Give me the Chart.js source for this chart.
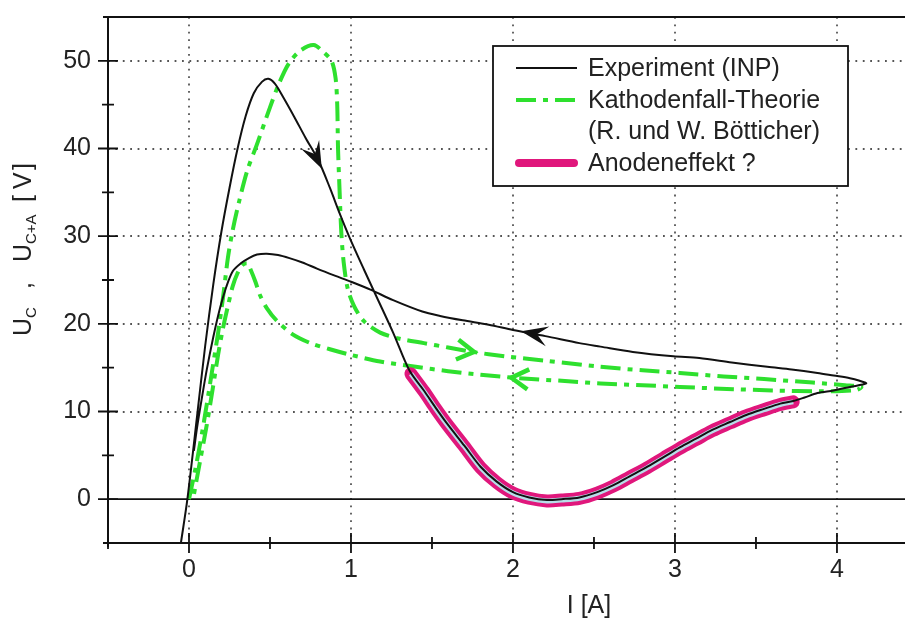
<!DOCTYPE html>
<html lang="de">
<head>
<meta charset="utf-8">
<title>Kennlinie U(I)</title>
<script src="https://cdn.jsdelivr.net/npm/chart.js@4.4.1/dist/chart.umd.min.js"></script>
<style>
  html, body { margin: 0; padding: 0; background: #fff; }
  #wrap { width: 905px; height: 621px; }
</style>
</head>
<body>
<div id="wrap"><canvas id="kennlinie" width="905" height="621"></canvas></div>
<script>
// Achsen
const xTicks = [-0.5, 0, 0.5, 1, 1.5, 2, 2.5, 3, 3.5, 4];
const xLabels = [0, 1, 2, 3, 4];
const yTicks = [-5, 0, 5, 10, 15, 20, 25, 30, 35, 40, 45, 50, 55];
const yLabels = [0, 10, 20, 30, 40, 50];

// Experiment (INP): Anstieg, Abfall, unterer Ast, oberer Ast zurueck
const expI = [-0.05, -0.01, 0.05, 0.1, 0.15, 0.2, 0.25, 0.3, 0.35, 0.4, 0.45, 0.49, 0.53, 0.58, 0.65, 0.72, 0.8, 0.87, 0.93, 0.99, 1.08, 1.16, 1.26, 1.36,
  1.45, 1.52, 1.59, 1.7, 1.8, 1.9, 2.0, 2.1, 2.21, 2.3, 2.41, 2.52, 2.62, 2.72, 2.83, 2.93, 3.03, 3.13, 3.23, 3.34, 3.44, 3.55, 3.65, 3.73, 3.8, 3.88, 3.98, 4.08, 4.18,
  4.14, 4.08, 3.98, 3.88, 3.72, 3.57, 3.35, 3.15, 2.99, 2.74, 2.54, 2.41, 2.2, 2.0, 1.85, 1.69, 1.55, 1.44, 1.26, 1.12, 1.0, 0.9, 0.79, 0.7, 0.62, 0.55, 0.48, 0.42, 0.37, 0.32, 0.27, 0.23, 0.19, 0.15, 0.11, 0.08, 0.05, 0.03];
const expU = [-5, 0, 9.5, 17.5, 24.5, 30.5, 35.5, 40, 43.7, 46.3, 47.6, 47.95, 47.4, 45.9, 43.6, 41.2, 38.6, 35.5, 32.6, 29.9, 26.2, 23, 19, 14.7,
  12.4, 10.5, 8.7, 6.1, 3.7, 2.0, 0.8, 0.2, -0.1, 0.0, 0.2, 0.8, 1.6, 2.6, 3.7, 4.8, 5.9, 6.9, 7.9, 8.8, 9.6, 10.3, 10.9, 11.2, 11.6, 12.1, 12.4, 12.8, 13.2,
  13.5, 13.8, 14.1, 14.4, 14.8, 15.1, 15.6, 16.1, 16.3, 16.8, 17.4, 17.8, 18.6, 19.3, 19.9, 20.4, 20.9, 21.4, 22.7, 23.9, 24.8, 25.5, 26.3, 27.0, 27.5, 27.85, 28, 27.9, 27.5, 26.9, 26.0, 24.2, 21.7, 18.5, 14.8, 11.6, 8.2, 5.5];

// Anodeneffekt ? (markierter Teil des unteren Astes)
const anodeI = [1.37, 1.45, 1.52, 1.59, 1.7, 1.8, 1.9, 2.0, 2.1, 2.21, 2.3, 2.41, 2.52, 2.62, 2.72, 2.83, 2.93, 3.03, 3.13, 3.23, 3.34, 3.44, 3.55, 3.65, 3.73];
const anodeU = [14.3, 12.3, 10.4, 8.6, 6.0, 3.6, 1.9, 0.7, 0.1, -0.2, -0.1, 0.1, 0.7, 1.5, 2.5, 3.6, 4.7, 5.8, 6.8, 7.8, 8.7, 9.5, 10.2, 10.8, 11.1];

// Kathodenfall-Theorie (R. und W. Boetticher)
const theoI = [0.0, 0.04, 0.08, 0.12, 0.15, 0.18, 0.21, 0.24, 0.27, 0.31, 0.36, 0.42, 0.5, 0.56, 0.62, 0.69, 0.77, 0.83, 0.88, 0.905, 0.915, 0.92, 0.93, 0.94, 0.955, 0.98, 1.02, 1.08, 1.18, 1.3, 1.45, 1.6, 1.75, 1.95, 2.2, 2.54, 2.8, 3.03, 3.3, 3.55, 3.85, 4.05, 4.15,
  4.12, 3.9, 3.6, 3.36, 3.03, 2.8, 2.54, 2.3, 2.04, 1.8, 1.6, 1.4, 1.18, 0.99, 0.87, 0.75, 0.64, 0.54, 0.48, 0.44, 0.41, 0.38, 0.36, 0.33, 0.3, 0.27, 0.24, 0.21, 0.18, 0.15, 0.11, 0.07, 0.03];
const theoU = [0, 3.5, 7.5, 12, 15.5, 19, 23, 27.5, 30.7, 34, 37.5, 40.5, 44.7, 47.6, 49.8, 51.2, 51.8, 51.0, 50.0, 48, 45, 40, 35, 30.5, 27, 24, 22, 20.3, 19.0, 18.3, 17.8, 17.3, 16.8, 16.3, 15.8, 15.1, 14.7, 14.4, 14.0, 13.7, 13.3, 13.0, 12.8,
  12.45, 12.3, 12.4, 12.55, 12.8, 13.0, 13.2, 13.5, 13.8, 14.2, 14.6, 15.1, 15.7, 16.5, 17.1, 17.8, 18.8, 20.4, 21.8, 23.2, 24.8, 26.2, 26.9, 26.7, 25.8, 24.3, 22, 19.5, 16.5, 13, 8.5, 4.5, 0.5];

// Richtungspfeile (Position auf der Kurve + Richtung)
const pfeileExp = [{ i: 0.82, u: 37.7, di: 0.06, du: -2.3 }, { i: 2.05, u: 19.15, di: -0.2, du: 0.7 }];
const pfeileTheo = [{ i: 1.76, u: 16.8, di: 0.2, du: -0.5 }, { i: 1.99, u: 13.85, di: -0.2, du: 0.35 }];

const FONT = '"Liberation Sans", Arial, Helvetica, sans-serif';
const SCHWARZ = '#111';
const GRUEN = '#2ee02e';
const PINK = '#e0177c';
const HELLBLAU = '#b8dde9';

const zip = (xs, ys) => xs.map((v, k) => ({ x: v, y: ys[k] }));

const pfeil = (ctx, sx, sy, p, offen, farbe) => {
    const tx = sx.getPixelForValue(p.i), ty = sy.getPixelForValue(p.u);
    const dx = sx.getPixelForValue(p.i + p.di) - tx;
    const dy = sy.getPixelForValue(p.u + p.du) - ty;
    const l = Math.hypot(dx, dy);
    const ux = dx / l, uy = dy / l, nx = -uy, ny = ux;
    ctx.save();
    if (offen) {
        const L = 17, W = 10;
        ctx.strokeStyle = farbe;
        ctx.lineWidth = 4.5;
        ctx.lineJoin = 'miter';
        ctx.beginPath();
        ctx.moveTo(tx - ux * L + nx * W, ty - uy * L + ny * W);
        ctx.lineTo(tx, ty);
        ctx.lineTo(tx - ux * L - nx * W, ty - uy * L - ny * W);
        ctx.stroke();
    } else {
        const L = 27, W = 10;
        ctx.fillStyle = farbe;
        ctx.beginPath();
        ctx.moveTo(tx, ty);
        ctx.lineTo(tx - ux * L + nx * W, ty - uy * L + ny * W);
        ctx.lineTo(tx - ux * L * 0.6, ty - uy * L * 0.6);
        ctx.lineTo(tx - ux * L - nx * W, ty - uy * L - ny * W);
        ctx.closePath();
        ctx.fill();
    }
    ctx.restore();
};

// Gitter, Rahmen, Teilstriche, Pfeile, Legende, Achsentitel
const rahmenPlugin = {
    id: 'rahmen',
    beforeDatasetsDraw(chart) {
        const { ctx, chartArea: a, scales: { x, y } } = chart;
        ctx.save();
        ctx.strokeStyle = '#555';
        ctx.lineWidth = 1.8;
        ctx.setLineDash([1.8, 5.6]);
        xLabels.forEach(v => {
            const px = Math.round(x.getPixelForValue(v));
            ctx.beginPath(); ctx.moveTo(px, a.top); ctx.lineTo(px, a.bottom); ctx.stroke();
        });
        yLabels.forEach(v => {
            if (v === 0) return;
            const py = Math.round(y.getPixelForValue(v));
            ctx.beginPath(); ctx.moveTo(a.left, py); ctx.lineTo(a.right, py); ctx.stroke();
        });
        ctx.setLineDash([]);
        ctx.strokeStyle = SCHWARZ;
        ctx.lineWidth = 1.6;
        const p0 = y.getPixelForValue(0);
        ctx.beginPath(); ctx.moveTo(a.left, p0); ctx.lineTo(a.right, p0); ctx.stroke();
        ctx.restore();
    },
    afterDatasetsDraw(chart) {
        const { ctx, chartArea: a, scales: { x, y } } = chart;

        pfeileExp.forEach(p => pfeil(ctx, x, y, p, false, SCHWARZ));
        pfeileTheo.forEach(p => pfeil(ctx, x, y, p, true, GRUEN));

        ctx.save();
        ctx.strokeStyle = SCHWARZ;
        ctx.lineWidth = 2;
        ctx.beginPath();
        ctx.moveTo(a.left - 5, a.top); ctx.lineTo(a.right, a.top);
        ctx.moveTo(a.left, a.top); ctx.lineTo(a.left, a.bottom + 4);
        ctx.moveTo(a.left - 5, a.bottom); ctx.lineTo(a.right, a.bottom);
        ctx.stroke();
        ctx.lineWidth = 1.8;
        ctx.beginPath();
        xTicks.forEach(v => {
            const px = x.getPixelForValue(v);
            const h = xLabels.includes(v) ? 10 : 6;
            ctx.moveTo(px, a.bottom - h); ctx.lineTo(px, a.bottom + h);
        });
        yTicks.forEach(v => {
            if (v === -5 || v === 55) return;
            const py = y.getPixelForValue(v);
            const w = yLabels.includes(v) ? 10 : 6;
            ctx.moveTo(a.left - w, py); ctx.lineTo(a.left + w, py);
        });
        ctx.stroke();
        ctx.restore();

        // Legende
        ctx.save();
        ctx.fillStyle = '#fff';
        ctx.fillRect(493, 46, 355, 140);
        ctx.strokeStyle = SCHWARZ;
        ctx.lineWidth = 1.8;
        ctx.strokeRect(493, 46, 355, 140);
        ctx.lineCap = 'butt';
        ctx.strokeStyle = SCHWARZ; ctx.lineWidth = 2;
        ctx.beginPath(); ctx.moveTo(516, 68); ctx.lineTo(577, 68); ctx.stroke();
        ctx.strokeStyle = GRUEN; ctx.lineWidth = 4; ctx.setLineDash([20, 7, 5, 7]);
        ctx.beginPath(); ctx.moveTo(516, 100); ctx.lineTo(578, 100); ctx.stroke();
        ctx.setLineDash([]);
        ctx.lineCap = 'round';
        ctx.strokeStyle = PINK; ctx.lineWidth = 8;
        ctx.beginPath(); ctx.moveTo(519, 163); ctx.lineTo(574, 163); ctx.stroke();
        ctx.fillStyle = '#222';
        ctx.font = '25px ' + FONT;
        ctx.textBaseline = 'middle';
        ctx.textAlign = 'left';
        ctx.fillText('Experiment (INP)', 588, 69);
        ctx.fillText('Kathodenfall-Theorie', 588, 101);
        ctx.fillText('(R. und W. Bötticher)', 588, 132);
        ctx.fillText('Anodeneffekt ?', 588, 164);
        ctx.restore();

        // x-Titel
        ctx.save();
        ctx.fillStyle = '#222';
        ctx.font = '25px ' + FONT;
        ctx.textAlign = 'center';
        ctx.textBaseline = 'middle';
        ctx.fillText('I [A]', 589, 606);
        ctx.restore();

        // y-Titel mit Indizes
        ctx.save();
        ctx.translate(31, 336);
        ctx.rotate(-Math.PI / 2);
        ctx.fillStyle = '#222';
        ctx.textBaseline = 'alphabetic';
        ctx.textAlign = 'left';
        const teile = [['U', 25, 0, 0], ['C', 15, 5, 18], [',', 25, 0, 47], ['U', 25, 0, 74], ['C+A', 15, 5, 92], ['[', 25, 0, 134], ['V', 25, 0, 147], [']', 25, 0, 166]];
        teile.forEach(([t, s, dy, off]) => {
            ctx.font = s + 'px ' + FONT;
            ctx.fillText(t, off, dy);
        });
        ctx.restore();
    }
};

new Chart(document.getElementById('kennlinie'), {
    type: 'scatter',
    data: {
        datasets: [
            {
                label: 'Experiment (INP)',
                data: zip(expI, expU),
                showLine: true,
                borderColor: SCHWARZ,
                borderWidth: 2,
                tension: 0.3
            },
            {
                label: 'Anodeneffekt (Kern)',
                data: zip(anodeI, anodeU),
                showLine: true,
                borderColor: HELLBLAU,
                borderWidth: 5,
                tension: 0.3
            },
            {
                label: 'Anodeneffekt ?',
                data: zip(anodeI, anodeU),
                showLine: true,
                borderColor: PINK,
                borderWidth: 13,
                borderCapStyle: 'round',
                borderJoinStyle: 'round',
                tension: 0.3
            },
            {
                label: 'Kathodenfall-Theorie (R. und W. Bötticher)',
                data: zip(theoI, theoU),
                showLine: true,
                borderColor: GRUEN,
                borderWidth: 4,
                borderDash: [20, 7, 5, 7],
                tension: 0.3
            }
        ]
    },
    options: {
        responsive: false,
        animation: false,
        events: [],
        layout: { padding: { top: 17, right: 0, left: 0, bottom: 0 } },
        elements: { point: { radius: 0 } },
        scales: {
            x: {
                type: 'linear',
                min: -0.5,
                max: 4.42,
                afterBuildTicks: s => { s.ticks = xTicks.map(v => ({ value: v })); },
                afterFit: s => { s.height = 78; s.paddingLeft = 0; s.paddingRight = 0; },
                grid: { display: false, drawTicks: false },
                border: { display: false },
                ticks: {
                    padding: 12,
                    color: '#222',
                    font: { family: FONT, size: 25 },
                    maxRotation: 0,
                    autoSkip: false,
                    callback: v => xLabels.includes(v) ? String(v) : ''
                }
            },
            y: {
                type: 'linear',
                min: -5,
                max: 55,
                afterBuildTicks: s => { s.ticks = yTicks.map(v => ({ value: v })); },
                afterFit: s => { s.width = 108; s.paddingTop = 0; s.paddingBottom = 0; },
                grid: { display: false, drawTicks: false },
                border: { display: false },
                ticks: {
                    padding: 17,
                    color: '#222',
                    font: { family: FONT, size: 25 },
                    autoSkip: false,
                    callback: v => yLabels.includes(v) ? String(v) : ''
                }
            }
        },
        plugins: {
            legend: { display: false },
            tooltip: { enabled: false }
        }
    },
    plugins: [rahmenPlugin]
});
</script>
</body>
</html>
